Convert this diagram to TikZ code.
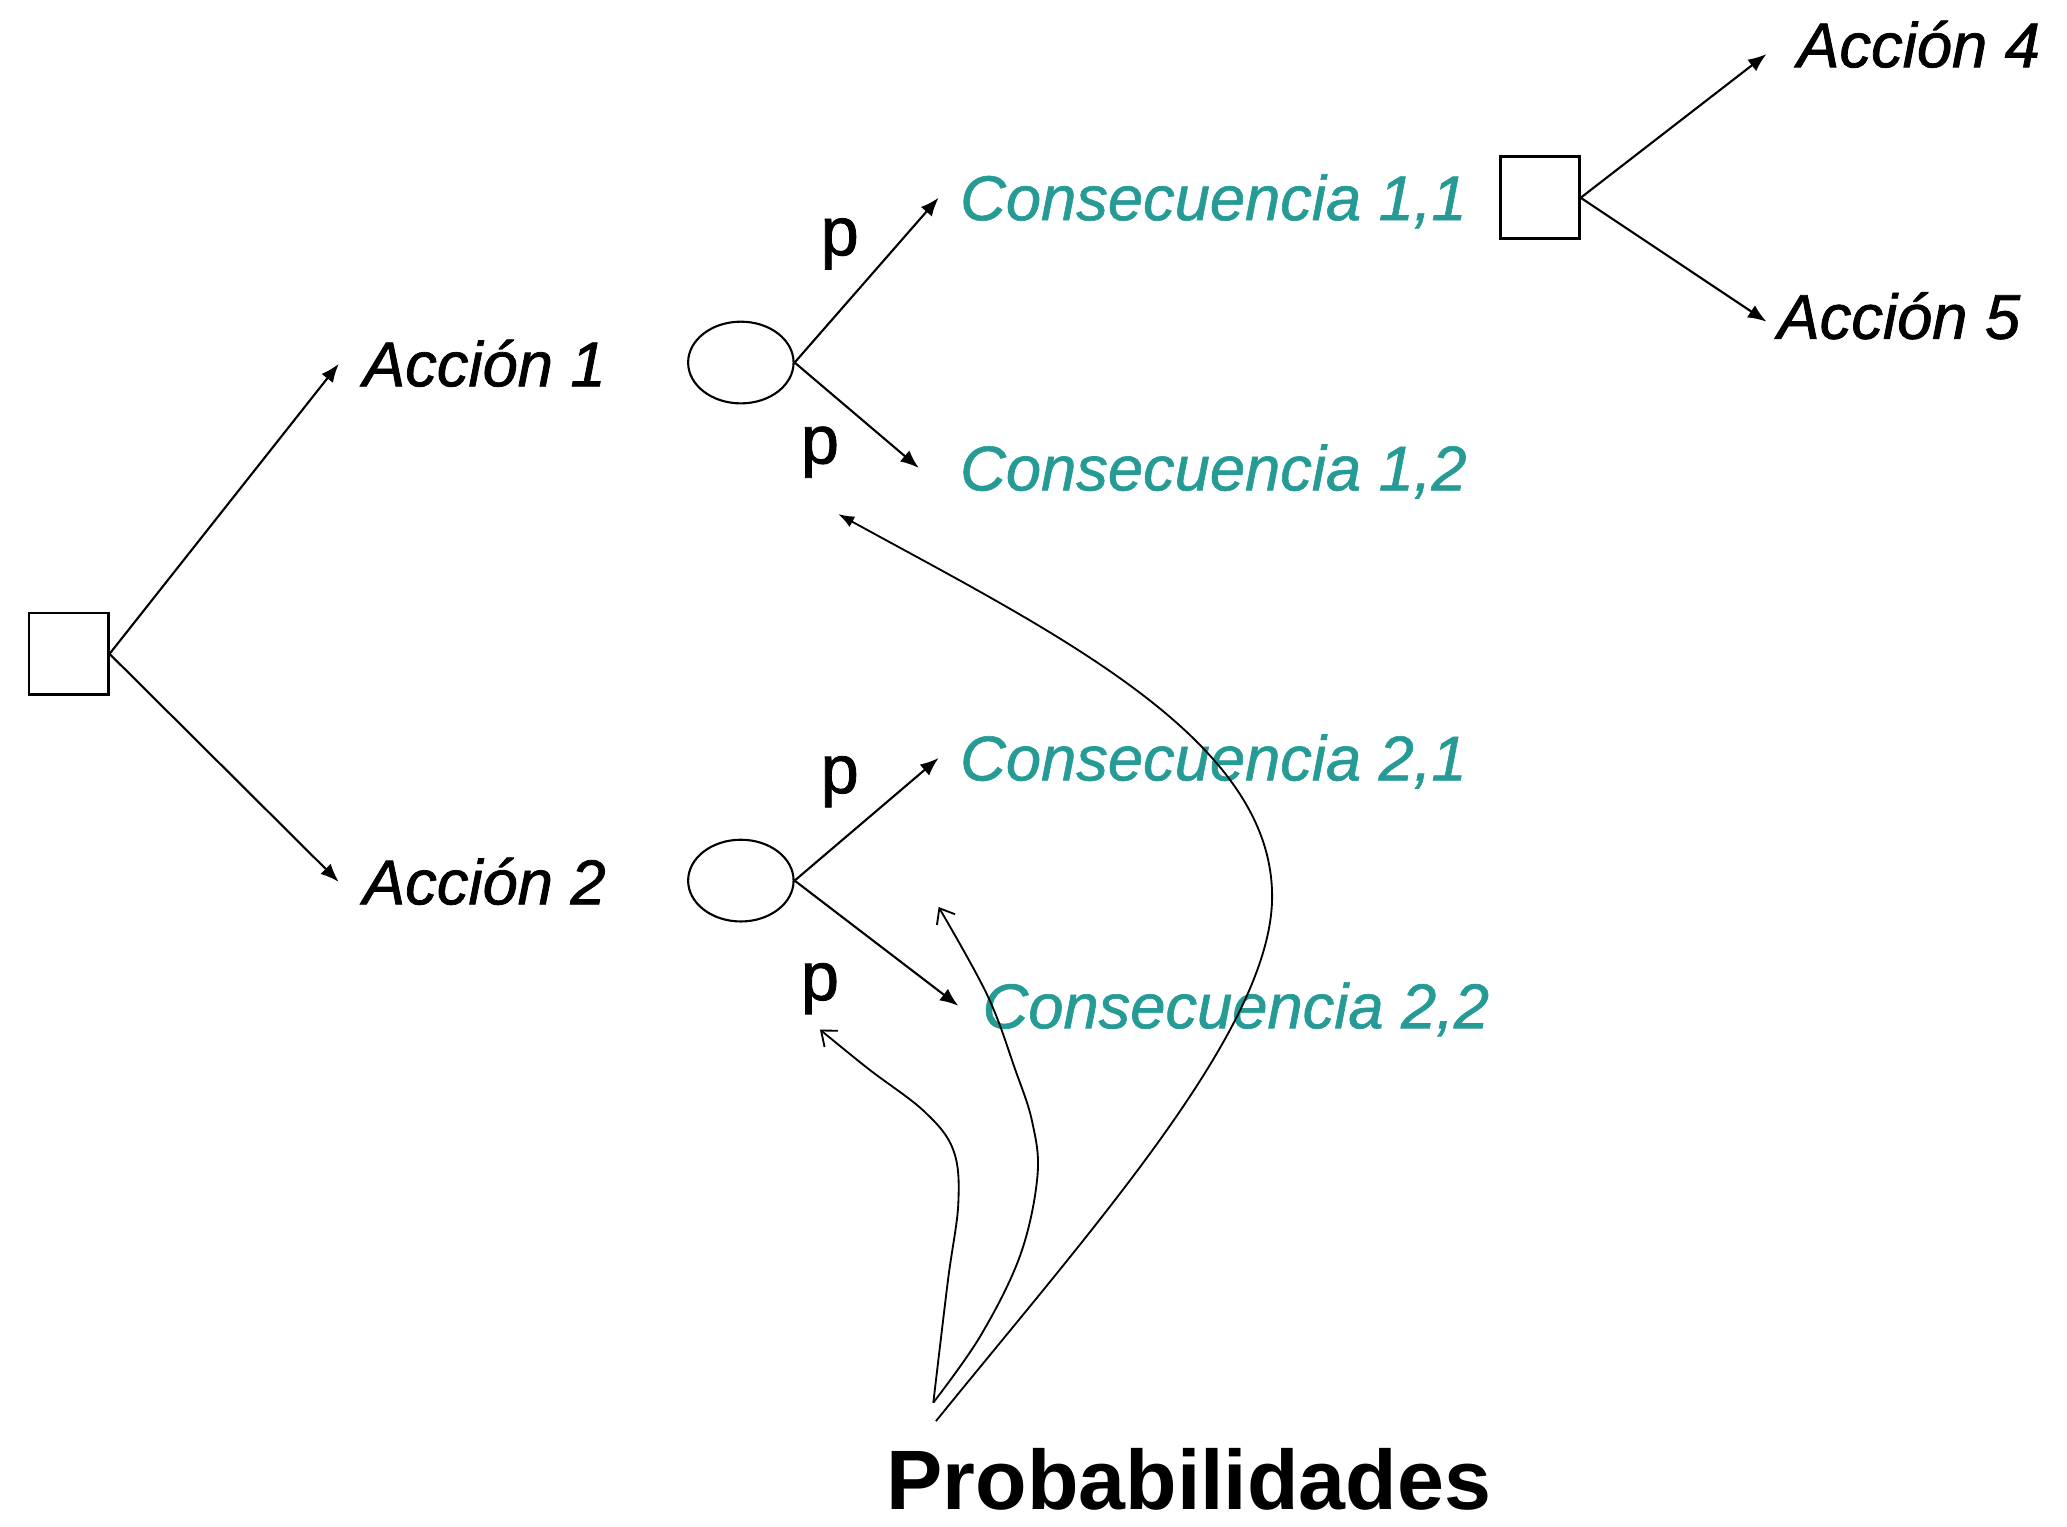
\documentclass[tikz,border=0pt]{standalone}
\usepackage{fontspec}
\setmainfont{Liberation Sans}
\usetikzlibrary{arrows.meta,shapes.geometric}
\definecolor{conscol}{RGB}{38,155,150}
\tikzset{
  decision/.style={draw, line width=1.1pt, minimum width=30pt, minimum height=31pt, inner sep=0pt},
  chance/.style={draw, ellipse, line width=0.8pt, minimum width=40pt, minimum height=31pt, inner sep=0pt},
  txt/.style={inner sep=0pt, anchor=base west, text height=17pt, text depth=0pt},
  act/.style={txt, font=\fontsize{24}{28}\selectfont\itshape\addfontfeatures{FakeBold=1.2}},
  cons/.style={txt, font=\fontsize{24}{28}\selectfont\itshape\addfontfeatures{FakeBold=1}, text=conscol},
  prob/.style={inner sep=0pt, font=\fontsize{26}{30}\selectfont\addfontfeatures{FakeBold=1.2}},
  tree/.style={line width=0.8pt, -{Latex[length=7pt,width=5.5pt]}},
  pointer/.style={line width=0.7pt},
}
\begin{document}
\begin{tikzpicture}[x=0.5pt,y=-0.5pt]
\useasboundingbox (0,0) rectangle (1568,1158);

% decision and chance nodes
\node[decision] (root) at (52,496) {};
\node[chance] (c1) at (562,275) {};
\node[chance] (c2) at (562,668) {};
\node[decision] (d2) at (1168,150) {};

% actions
\node[act] (a1) at (275,293) {Acción 1};
\node[act] (a2) at (275,686) {Acción 2};
\node[act] (a4) at (1363,51) {Acción 4};
\node[act] (a5) at (1348,257) {Acción 5};

% consequences
\node[cons] (k11) at (728,167) {Consecuencia 1,1};
\node[cons] (k12) at (728,372) {Consecuencia 1,2};
\node[cons] (k21) at (728,592) {Consecuencia 2,1};
\node[cons] (k22) at (745,780) {Consecuencia 2,2};

% probability marks
\node[prob] (p11) at (637,185) {p};
\node[prob] (p12) at (622,343) {p};
\node[prob] (p21) at (637,593) {p};
\node[prob] (p22) at (622,750) {p};

\node[inner sep=0pt, anchor=base west, font=\fontsize{32}{36}\selectfont\bfseries] (probs) at (672,1145) {Probabilidades};

% branches
\draw[tree] (root.east) -- ([xshift=-9pt]a1.west);
\draw[tree] (root.east) -- ([xshift=-9pt]a2.west);
\draw[tree] (c1.east) -- ([xshift=-8pt]k11.west);
\draw[tree] (c1.east) -- ([xshift=-15.5pt]k12.west);
\draw[tree] (c2.east) -- ([xshift=-8pt]k21.west);
\draw[tree] (c2.east) -- ([xshift=-9pt]k22.west);
\draw[tree] (d2.east) -- ([xshift=-11.5pt,yshift=-3.5pt]a4.west);
\draw[tree] (d2.east) -- ([xshift=-4pt,yshift=-2pt]a5.west);

% pointers from the caption to the probabilities
\coordinate (srcA) at (710,1078);
\coordinate (srcB) at (708,1064);
\coordinate (tipA) at (636,390);
\coordinate (tipB) at (712,688);
\coordinate (tipC) at (622,781);
\draw[pointer, -{Latex[length=6pt,width=4.5pt]}] (srcA) .. controls (830,930) and (965,780) .. (965,680)
  .. controls (965,560) and (800,480) .. (tipA);
\draw[pointer, -{Straight Barb[length=5pt,width=8pt]}] plot[smooth, tension=0.6] coordinates {(srcB) (744,1013) (774,952) (787,892) (783,851) (770,811) (749,755) (tipB)};
\draw[pointer, -{Straight Barb[length=5pt,width=8pt]}] plot[smooth, tension=0.6] coordinates {(srcB) (719,972) (727,912) (723,872) (701,843) (659,811) (tipC)};
\end{tikzpicture}
\end{document}
